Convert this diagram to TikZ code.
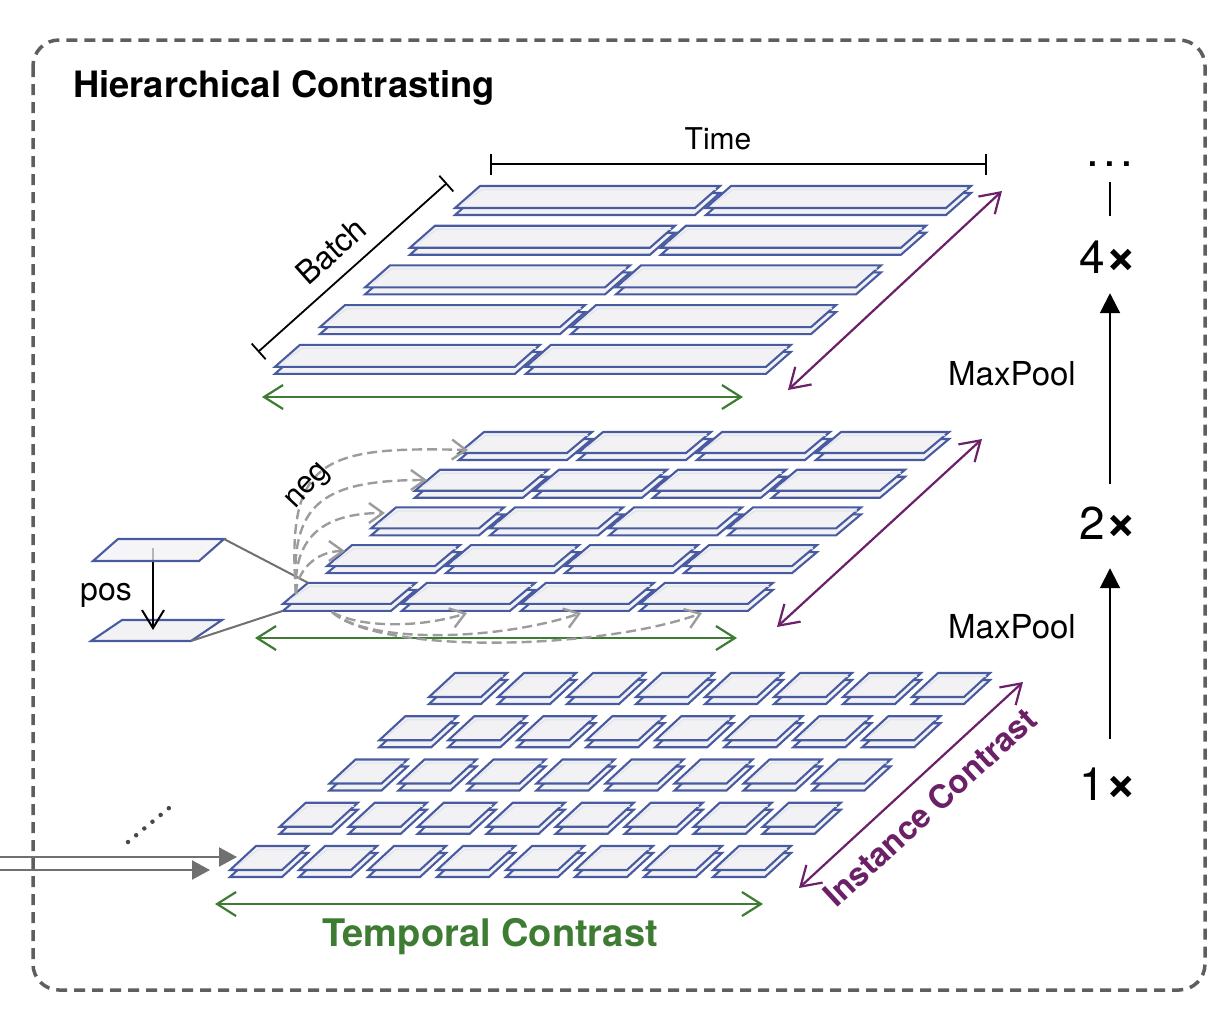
\documentclass[tikz,border=0pt]{standalone}
\usepackage{fontspec}
\setmainfont{TeX Gyre Heros}
\usetikzlibrary{arrows.meta,calc}

\definecolor{tileblue}{HTML}{485AA0}
\definecolor{tilefill}{HTML}{F2F2F4}
\definecolor{tcgreen}{HTML}{3E7B33}
\definecolor{icpurple}{HTML}{6B2068}
\definecolor{neggray}{HTML}{9C9C9C}
\definecolor{linegray}{HTML}{707070}
\definecolor{framegray}{HTML}{5E5E5E}

\newcommand{\sizepx}[1]{\fontsize{#1}{#1}\selectfont}
\newcommand{\scalemark}{{\sizepx{54}\bfseries ×}}

% one feature map cell: a shadow copy and the cell on top
\newcommand{\drawtile}[4]{%
  \filldraw[tile] ($(#1)+(0,7)$) -- ++(#2,0) -- ++(#4,#3) -- ++(-#2,0) -- cycle;
  \filldraw[tile] (#1) -- ++(#2,0) -- ++(#4,#3) -- ++(-#2,0) -- cycle;
  \draw[tileedge] ($(#1)+(#4*0.8+2,#3-4)$) -- ($(#1)+(2,3.5)$) -- ($(#1)+(#2-4,3.5)$);
}

\tikzset{
  tile/.style={draw=tileblue, fill=tilefill, line width=2.1pt, line join=miter},
  tileedge/.style={draw=tileblue!16, line width=1.3pt},
  contrast/.style={line width=2.2pt,
    {Straight Barb[length=19pt,width=24pt]}-{Straight Barb[length=19pt,width=24pt]}},
  temporal/.style={contrast, draw=tcgreen},
  instance/.style={contrast, draw=icpurple},
  negarrow/.style={draw=neggray, line width=2.4pt, dash pattern=on 10pt off 5pt,
    -{Straight Barb[length=14pt,width=20pt]}},
  posarrow/.style={line width=2pt, -{Straight Barb[length=18pt,width=22pt]}},
  poolarrow/.style={line width=2pt, -{Triangle[length=20pt,width=20pt]}},
  inarrow/.style={draw=linegray, line width=2.2pt, -{Triangle[length=18pt,width=19pt]}},
  measure/.style={line width=1.8pt, {Bar[width=21pt]}-{Bar[width=21pt]}},
  callout/.style={draw=linegray, line width=2pt},
  frame/.style={draw=framegray, line width=3.5pt, dash pattern=on 11pt off 7pt,
    rounded corners=26pt},
  txt/.style={inner sep=0pt, font=\sizepx{#1}},
  txt/.default=30
}

\begin{document}
\begin{tikzpicture}[x=1pt,y=-1pt]
\useasboundingbox (0,0) rectangle (1218,1010);

\node[txt=36, font=\sizepx{36.3}\bfseries, anchor=base west] (title) at (73,97) {Hierarchical Contrasting};

% 4x layer
\foreach \r in {0,...,4}{
  \foreach \c in {0,1}{
    \coordinate (t-\r-\c) at ({480-45*\r+251*\c},{186+39.7*\r});
    \drawtile{t-\r-\c}{240}{22}{-25}
  }
}
% 2x layer
\foreach \r in {0,...,4}{
  \foreach \c in {0,...,3}{
    \coordinate (m-\r-\c) at ({484-44*\r+119*\c},{432+37.7*\r});
    \drawtile{m-\r-\c}{108}{21}{-25}
  }
}
% 1x layer
\foreach \r in {0,...,4}{
  \foreach \c in {0,...,7}{
    \coordinate (b-\r-\c) at ({455-49.75*\r+69*\c},{673+43.25*\r});
    \drawtile{b-\r-\c}{52}{24}{-26}
  }
}

% axes of the top layer
\coordinate (time-a) at (490,164);
\coordinate (time-b) at (987,164);
\draw[measure] (time-a) -- (time-b);
\node[txt=30, anchor=base] (time) at (718,149) {Time};
\coordinate (batch-a) at (258,352);
\coordinate (batch-b) at (447,183);
\draw[measure] (batch-a) -- (batch-b);
\node[txt=32, rotate=41.8] (batch) at (331,251) {Batch};

% temporal and instance contrast
\coordinate (tc-4a) at (262,397);
\coordinate (tc-4b) at (743,397);
\coordinate (tc-2a) at (255,638);
\coordinate (tc-2b) at (737,638);
\coordinate (tc-1a) at (215,904);
\coordinate (tc-1b) at (763,904);
\draw[temporal] (tc-4a) -- (tc-4b);
\draw[temporal] (tc-2a) -- (tc-2b);
\draw[temporal] (tc-1a) -- (tc-1b);
\coordinate (ic-4a) at (788,390);
\coordinate (ic-4b) at (1002,191);
\coordinate (ic-2a) at (777,627);
\coordinate (ic-2b) at (982,439);
\coordinate (ic-1a) at (799,888);
\coordinate (ic-1b) at (1023,682);
\draw[instance] (ic-4a) -- (ic-4b);
\draw[instance] (ic-2a) -- (ic-2b);
\draw[instance] (ic-1a) -- (ic-1b);
\node[txt=38, font=\sizepx{38}\bfseries, text=tcgreen, anchor=base] (temporal) at (490,946) {Temporal Contrast};
\node[txt=32, font=\sizepx{32.5}\bfseries, text=icpurple, rotate=42.6] (instance) at (930,807) {Instance Contrast};

% positive pair
\coordinate (pos-b) at (122,620);
\filldraw[tile] (pos-b) -- ++(100,0) -- ++(-31,21) -- ++(-100,0) -- cycle;
\coordinate (pos-top) at (153,548);
\coordinate (pos-tip) at (153,630);
\draw[posarrow] (pos-top) -- (pos-tip);
\coordinate (pos-a) at (118,539);
\filldraw[tile, fill opacity=0.75] (pos-a) -- ++(106,0) -- ++(-25,22) -- ++(-106,0) -- cycle;
\node[txt=32, anchor=base] (pos) at (106,600) {pos};
\coordinate (pos-a-tr) at (224,539);
\coordinate (pos-b-br) at (191,641);
\draw[callout] (pos-a-tr) -- (m-4-0);
\draw[callout] (pos-b-br) -- ($(m-4-0)+(-25,28)$);

% negative pairs
\coordinate (neg-up) at (296,594);
\coordinate (neg-dn) at (332,612);
\coordinate (neg-0) at (468,450);
\coordinate (neg-1) at (427,480);
\coordinate (neg-2) at (385,513);
\coordinate (neg-3) at (345,551);
\coordinate (neg-r1) at (467,613);
\coordinate (neg-r2) at (581,613);
\coordinate (neg-r3) at (702,613);
\draw[negarrow] (neg-up) .. controls +(-10,-134) and +(-148,-4) .. (neg-0);
\draw[negarrow] (neg-up) .. controls +(-6,-89) and +(-107,0) .. (neg-1);
\draw[negarrow] (neg-up) .. controls +(-3,-54) and +(-65,0) .. (neg-2);
\draw[negarrow] (neg-up) .. controls +(0,-22) and +(-30,0) .. (neg-3);
\draw[negarrow] (neg-dn) .. controls +(28,16) and +(-47,15) .. (neg-r1);
\draw[negarrow] (neg-dn) .. controls +(38,33) and +(-81,27) .. (neg-r2);
\draw[negarrow] (neg-dn) .. controls +(48,43) and +(-102,37) .. (neg-r3);
\node[txt=31, rotate=47] (neg) at (309,487) {neg};

% input series
\coordinate (in-a) at (0,857);
\coordinate (in-b) at (0,870);
\coordinate (in-a-tip) at (237,857);
\coordinate (in-b-tip) at (210,870);
\draw[inarrow] (in-a) -- (in-a-tip);
\draw[inarrow] (in-b) -- (in-b-tip);
\coordinate (dots-a) at (128,842);
\coordinate (dots-b) at (169,808);
\draw[draw=black!72, line width=4.5pt, line cap=round, dash pattern=on 0pt off 10.6pt] (dots-a) -- (dots-b);

% scales
\node[txt=46, anchor=base] (more) at (1110,166) {.\hspace{4pt}.\hspace{4pt}.};
\node[txt=46, anchor=base] (s4) at (1108,273) {4\scalemark};
\node[txt=46, anchor=base] (s2) at (1108,539) {2\scalemark};
\node[txt=46, anchor=base] (s1) at (1108,800) {1\scalemark};
\node[txt=33, anchor=base] (pool2) at (1012,385) {MaxPool};
\node[txt=33, anchor=base] (pool1) at (1012,638) {MaxPool};
\coordinate (more-end) at (1110,216);
\draw[line width=2pt] (more.south -| more-end) ++(0,16) -- (more-end);
\draw[poolarrow, shorten <=22pt, shorten >=20pt] (s2.north -| more-end) -- (s4.south -| more-end);
\draw[poolarrow, shorten <=28pt, shorten >=29pt] (s1.north -| more-end) -- (s2.south -| more-end);

\draw[frame] (33,40) rectangle (1205,990);
\end{tikzpicture}
\end{document}
